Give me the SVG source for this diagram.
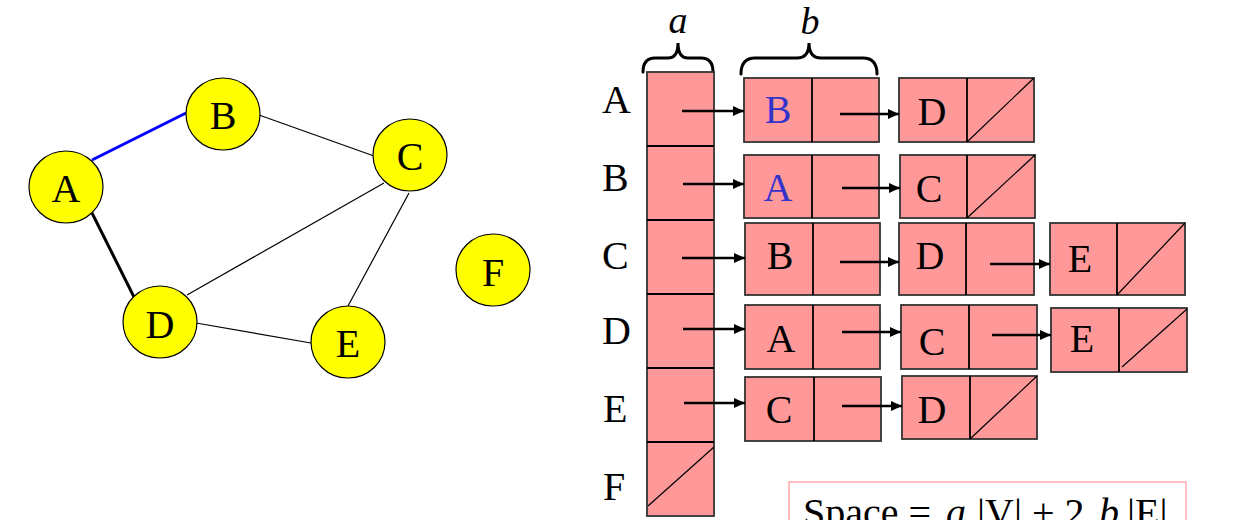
<svg xmlns="http://www.w3.org/2000/svg" width="1242" height="520" viewBox="0 0 1242 520">
<defs>
<marker id="ah" viewBox="0 0 11 10" refX="11" refY="5" markerWidth="11" markerHeight="10" markerUnits="userSpaceOnUse" orient="auto">
<path d="M0,0 L11,5 L0,10 Z" fill="#000"/>
</marker>
<style>
.t{font-family:"Liberation Serif","Times New Roman",serif;font-size:40px;fill:#000;text-anchor:middle}
.lbl{font-family:"Liberation Serif","Times New Roman",serif;font-size:40px;fill:#000}
.it{font-style:italic}
.blue{fill:#3333cc}
.gn{fill:#ffff00;stroke:#000;stroke-width:1.2}
.cell{fill:#ff9999;stroke:#333;stroke-width:1.8}
.div{stroke:#000;stroke-width:1.8;fill:none}
.nil{stroke:#000;stroke-width:1.2;fill:none}
.ptr{stroke:#000;stroke-width:2.5;fill:none;marker-end:url(#ah)}
.edge{stroke:#000;stroke-width:1.2;fill:none}
.brace{stroke:#000;stroke-width:3;fill:none;stroke-linecap:round}
</style>
</defs>
<rect width="1242" height="520" fill="#fff"/>

<g id="graph-edges">
<line x1="92" y1="160" x2="186" y2="113" stroke="#0000ff" stroke-width="3"/>
<line x1="92" y1="213" x2="134" y2="297" stroke="#000" stroke-width="3"/>
<line class="edge" x1="259" y1="115" x2="374" y2="156"/>
<line class="edge" x1="384" y1="183" x2="187" y2="295"/>
<line class="edge" x1="409" y1="193" x2="348" y2="306"/>
<line class="edge" x1="196" y1="323" x2="311" y2="343"/>
</g>
<g id="gA"><ellipse class="gn" cx="66" cy="187" rx="37" ry="36"/><text class="t" x="66" y="202">A</text></g>
<g id="gB"><ellipse class="gn" cx="223" cy="114" rx="37" ry="36"/><text class="t" x="223" y="129">B</text></g>
<g id="gC"><ellipse class="gn" cx="410" cy="155" rx="37" ry="36"/><text class="t" x="410" y="170">C</text></g>
<g id="gD"><ellipse class="gn" cx="160" cy="322" rx="37" ry="36"/><text class="t" x="160" y="338">D</text></g>
<g id="gE"><ellipse class="gn" cx="348" cy="342" rx="37" ry="36"/><text class="t" x="348" y="357">E</text></g>
<g id="gF"><ellipse class="gn" cx="493" cy="270" rx="37" ry="36"/><text class="t" x="493" y="286">F</text></g>

<g id="braces">
<path class="brace" d="M643,72 Q643,58 655,58 L668,58 Q678,58 678,43 Q678,58 688,58 L701,58 Q713,58 713,72"/>
<text class="t it" x="678" y="33" style="font-size:38px">a</text>
<path class="brace" d="M741,74 Q741,58 755,58 L797,58 Q809,58 809,43 Q809,58 821,58 L863,58 Q877,58 877,74"/>
<text class="t it" x="810" y="34" style="font-size:38px">b</text>
</g>

<g id="row-labels">
<text class="lbl" x="602" y="113">A</text>
<text class="lbl" x="602" y="191">B</text>
<text class="lbl" x="602" y="269">C</text>
<text class="lbl" x="602" y="344">D</text>
<text class="lbl" x="603" y="422">E</text>
<text class="lbl" x="603" y="500">F</text>
</g>

<g id="array">
<rect class="cell" x="647" y="72" width="67" height="444"/>
<line class="div" x1="647" y1="146" x2="714" y2="146"/>
<line class="div" x1="647" y1="220" x2="714" y2="220"/>
<line class="div" x1="647" y1="294" x2="714" y2="294"/>
<line class="div" x1="647" y1="368" x2="714" y2="368"/>
<line class="div" x1="647" y1="442" x2="714" y2="442"/>
<line class="nil" x1="648" y1="506" x2="714" y2="447"/>
</g>

<g id="A1"><rect class="cell" x="744" y="78" width="135" height="64"/><line class="div" x1="812" y1="78" x2="812" y2="142"/><text class="t blue" x="778" y="123">B</text></g>
<g id="A2"><rect class="cell" x="899" y="78" width="135" height="64"/><line class="div" x1="967" y1="78" x2="967" y2="142"/><line class="nil" x1="967" y1="142" x2="1034" y2="78"/><text class="t" x="932" y="125">D</text></g>

<g id="B1"><rect class="cell" x="744" y="155" width="135" height="63"/><line class="div" x1="812" y1="155" x2="812" y2="218"/><text class="t blue" x="778" y="201">A</text></g>
<g id="B2"><rect class="cell" x="900" y="155" width="135" height="63"/><line class="div" x1="967" y1="155" x2="967" y2="218"/><line class="nil" x1="967" y1="218" x2="1035" y2="155"/><text class="t" x="929" y="202">C</text></g>

<g id="C1"><rect class="cell" x="745" y="223" width="135" height="72"/><line class="div" x1="813" y1="223" x2="813" y2="295"/><text class="t" x="780" y="269">B</text></g>
<g id="C2"><rect class="cell" x="899" y="223" width="135" height="72"/><line class="div" x1="966" y1="223" x2="966" y2="295"/><text class="t" x="930" y="269">D</text></g>
<g id="C3"><rect class="cell" x="1050" y="223" width="135" height="72"/><line class="div" x1="1117" y1="223" x2="1117" y2="295"/><line class="nil" x1="1117" y1="295" x2="1185" y2="223"/><text class="t" x="1080" y="272">E</text></g>

<g id="D1"><rect class="cell" x="745" y="305" width="135" height="64"/><line class="div" x1="813" y1="305" x2="813" y2="369"/><text class="t" x="781" y="352">A</text></g>
<g id="D2"><rect class="cell" x="901" y="305" width="136" height="64"/><line class="div" x1="969" y1="305" x2="969" y2="369"/><text class="t" x="932" y="355">C</text></g>
<g id="D3"><rect class="cell" x="1051" y="308" width="136" height="64"/><line class="div" x1="1119" y1="308" x2="1119" y2="372"/><line class="nil" x1="1122" y1="367" x2="1187" y2="309"/><text class="t" x="1082" y="352">E</text></g>

<g id="E1"><rect class="cell" x="745" y="377" width="136" height="64"/><line class="div" x1="814" y1="377" x2="814" y2="441"/><text class="t" x="779" y="423">C</text></g>
<g id="E2"><rect class="cell" x="902" y="376" width="135" height="63"/><line class="div" x1="970" y1="376" x2="970" y2="439"/><line class="nil" x1="970" y1="439" x2="1037" y2="376"/><text class="t" x="932" y="423">D</text></g>

<g id="connectors">
<line class="ptr" x1="682" y1="111" x2="744" y2="111"/>
<line class="ptr" x1="840" y1="114" x2="899" y2="114"/>
<line class="ptr" x1="683" y1="184" x2="744" y2="184"/>
<line class="ptr" x1="842" y1="188" x2="900" y2="188"/>
<line class="ptr" x1="682" y1="258" x2="745" y2="258"/>
<line class="ptr" x1="840" y1="262" x2="899" y2="262"/>
<line class="ptr" x1="990" y1="264" x2="1050" y2="264"/>
<line class="ptr" x1="683" y1="329" x2="745" y2="329"/>
<line class="ptr" x1="842" y1="332" x2="901" y2="332"/>
<line class="ptr" x1="992" y1="335" x2="1051" y2="335"/>
<line class="ptr" x1="684" y1="403" x2="745" y2="403"/>
<line class="ptr" x1="842" y1="406" x2="902" y2="406"/>
</g>

<g id="space-note">
<rect x="789" y="482" width="397" height="60" fill="#fff" stroke="#ffaaaa" stroke-width="1.5"/>
<text class="lbl" x="803" y="526">Space = <tspan class="it" x="946">a</tspan><tspan x="977">|V| + 2</tspan><tspan class="it" x="1099">b</tspan><tspan x="1127">|E|</tspan></text>
</g>
</svg>
